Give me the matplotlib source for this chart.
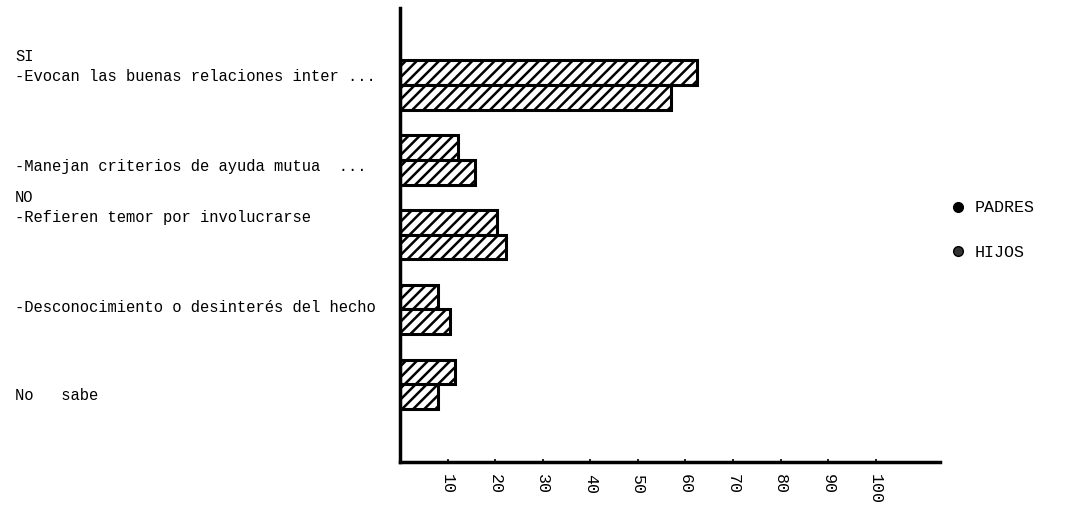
import numpy as np
import matplotlib
matplotlib.use("Agg")
import matplotlib.pyplot as plt
import matplotlib.transforms as mtransforms
from matplotlib.lines import Line2D

# categories (top to bottom) and percentages
categories = [
    "SI\n-Evocan las buenas relaciones inter ...",
    "-Manejan criterios de ayuda mutua  ...",
    "NO\n-Refieren temor por involucrarse",
    "-Desconocimiento o desinterés del hecho",
    "No   sabe",
]
padres = [62.5, 12.2, 20.4, 8, 11.6]
hijos = [57, 15.8, 22.3, 10.5, 8]
series_names = ["PADRES", "HIJOS"]
xticks = [10, 20, 30, 40, 50, 60, 70, 80, 90, 100]

plt.rcParams["hatch.linewidth"] = 1.8

fig = plt.figure(figsize=(10.76, 5.07), dpi=100)
ax = fig.add_axes([400 / 1076, 1 - 462 / 507, 540 / 1076, 454 / 507])

y = np.arange(len(categories))
h = 0.33
ax.barh(y - h / 2, padres, height=h, color="white", edgecolor="black",
        hatch="///", linewidth=2.2)
ax.barh(y + h / 2, hijos, height=h, color="white", edgecolor="black",
        hatch="///", linewidth=2.2)

ax.set_xlim(0, 113.5)
ax.set_ylim(len(categories) - 1 + 1.04, -1.03)

for s in ["top", "right"]:
    ax.spines[s].set_visible(False)
ax.spines["left"].set_linewidth(2.5)
ax.spines["bottom"].set_linewidth(2.5)

ax.set_yticks([])
ax.set_xticks(xticks)
ax.set_xticklabels([str(t) for t in xticks], rotation=270,
                   family="Liberation Mono", fontsize=12)
ax.tick_params(axis="x", direction="in", length=2, width=1.2, pad=9)

# category labels, left aligned near the page edge
dy = [-0.25, 0.09, -0.36, -0.03, 0.15]
trans = mtransforms.blended_transform_factory(fig.transFigure, ax.transData)
for i, lab in enumerate(categories):
    ax.text(15 / 1076, i + dy[i], lab, transform=trans, ha="left",
            va="center", fontsize=11.2, family="Liberation Mono",
            linespacing=1.45, clip_on=False)

handles = [
    Line2D([], [], marker="o", color="black", linestyle="none", markersize=7),
    Line2D([], [], marker="o", color="black", markerfacecolor="#333333",
           linestyle="none", markersize=7),
]
fig.legend(handles, series_names, loc="center left",
           bbox_to_anchor=(936 / 1076, 1 - 230 / 507), frameon=False,
           prop={"family": "Liberation Mono", "size": 12},
           handlelength=0.8, labelspacing=1.75, handletextpad=0.6)

fig.savefig("out.png", dpi=100)
